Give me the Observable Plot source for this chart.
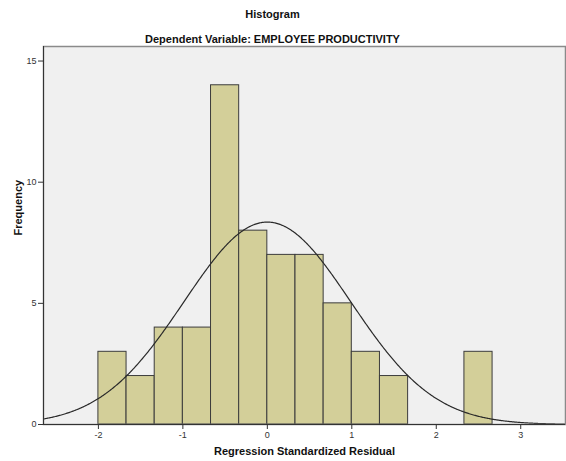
<!DOCTYPE html>
<html>
<head>
<meta charset="utf-8">
<script src="https://cdn.jsdelivr.net/npm/d3@7"></script>
<script src="https://cdn.jsdelivr.net/npm/@observablehq/plot@0.6"></script>
<style>
  html, body { margin: 0; padding: 0; background: #fff; }
  #chart svg { display: block; font-family: Arial, "Liberation Sans", sans-serif; }
</style>
</head>
<body>
<div id="chart"></div>
<script>
// Histogram bins (lower edges, width 1/3) and frequencies
const binStarts = [-2, -5/3, -4/3, -1, -2/3, -1/3, 0, 1/3, 2/3, 1, 4/3, 7/3];
const binWidth = 1/3;
const frequencies = [3, 2, 4, 4, 14, 8, 7, 7, 5, 3, 2, 3];
// Normal curve parameters
const curveMean = 0;
const curveSd = 0.987;
const curveN = 62;
// Axis ticks
const xTicks = [-2, -1, 0, 1, 2, 3];
const yTicks = [0, 5, 10, 15];
const titleText = "Histogram";
const subtitleText = "Dependent Variable: EMPLOYEE PRODUCTIVITY";
const xLabel = "Regression Standardized Residual";
const yLabel = "Frequency";

const bars = binStarts.map((s, i) => ({x1: s, x2: s + binWidth, y: frequencies[i]}));
const xDomain = [-2.65, 3.53];
const curve = d3.range(xDomain[0], xDomain[1] + 0.001, 0.01).map(x => ({
  x,
  y: curveN * binWidth * Math.exp(-0.5 * ((x - curveMean) / curveSd) ** 2) / (curveSd * Math.sqrt(2 * Math.PI))
}));

const fmt = d => String(d);
const chart = Plot.plot({
  width: 566,
  height: 461,
  marginLeft: 43,
  marginRight: 1,
  marginTop: 46,
  marginBottom: 37,
  style: {fontFamily: "Arial, 'Liberation Sans', sans-serif", fontSize: "9px", color: "#333", background: "#fff"},
  x: {domain: xDomain},
  y: {domain: [0, 15.6]},
  marks: [
    Plot.frame({fill: "#f0f0f0", stroke: null}),
    Plot.rectY(bars, {x1: "x1", x2: "x2", y: "y", fill: "#d3cf99", stroke: "#3c3c3c", strokeWidth: 1, insetLeft: 0, insetRight: 0}),
    Plot.line(curve, {x: "x", y: "y", stroke: "#2a2a2a", strokeWidth: 1.2, curve: "linear"}),
    Plot.frame({stroke: "#8a8a8a", strokeWidth: 1.5}),
    Plot.ruleY([0], {stroke: "#333", strokeWidth: 1.2}),
    Plot.ruleX([xDomain[0]], {stroke: "#333", strokeWidth: 1}),
    Plot.axisX(xTicks, {tickFormat: fmt, tickSize: 5, tickPadding: 2, label: null, fontSize: 9, stroke: "#333"}),
    Plot.axisY(yTicks, {tickFormat: fmt, tickSize: 5, tickPadding: 2, label: null, fontSize: 9, stroke: "#333"}),
    Plot.text([xLabel], {frameAnchor: "bottom", dy: 30, fontSize: 11, fontWeight: "bold", fill: "#111"}),
    Plot.text([yLabel], {frameAnchor: "left", dx: -25, rotate: -90, fontSize: 11, fontWeight: "bold", fill: "#111"}),
    Plot.text([titleText], {frameAnchor: "top-left", dx: 229, dy: -36, fontSize: 11, fontWeight: "bold", fill: "#111", textAnchor: "middle"}),
    Plot.text([subtitleText], {frameAnchor: "top-left", dx: 229, dy: -11, fontSize: 11, fontWeight: "bold", fill: "#111", textAnchor: "middle"})
  ]
});
document.getElementById("chart").appendChild(chart);
</script>
</body>
</html>
